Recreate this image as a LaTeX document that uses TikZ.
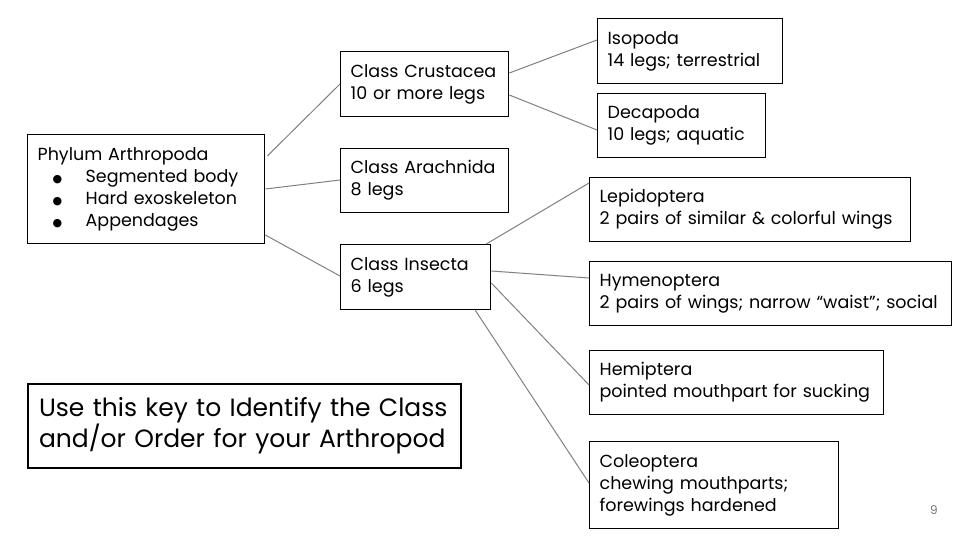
\documentclass[tikz,border=0pt]{standalone}
\usepackage{fontspec}
\setmainfont{Poppins}
\newfontfamily\symfont{DejaVu Sans}
\usetikzlibrary{calc}
\definecolor{conngray}{HTML}{808080}
\definecolor{numgray}{HTML}{757575}
\tikzset{
  box/.style={draw=black, line width=1.3pt, anchor=north west, align=left,
    inner xsep=10pt, inner ysep=0pt, font=\fontsize{17.5}{22}\selectfont},
  keybox/.style={draw=black, line width=2pt, anchor=north west, align=left,
    inner xsep=11pt, inner ysep=0pt, font=\fontsize{25}{29}\selectfont},
  conn/.style={draw=conngray, line width=1pt},
}
\newcommand{\bul}[1]{\hspace{15pt}\makebox[33pt][l]{\symfont\fontsize{11}{11}\selectfont ●}#1}
\begin{document}
\begin{tikzpicture}[x=1pt,y=-1pt]
\useasboundingbox (0,0) rectangle (960,540);
\node[box, text width=217pt, minimum height=109pt] (phyl) at (27,134)
  {Phylum Arthropoda\\\bul{Segmented body}\\\bul{Hard exoskeleton}\\\bul{Appendages}};
\node[box, text width=148pt, minimum height=65pt] (crus) at (340,51)
  {Class Crustacea\\10 or more legs};
\node[box, text width=148pt, minimum height=64pt] (arach) at (340,148)
  {Class Arachnida\\8 legs};
\node[box, text width=130pt, minimum height=65pt] (insec) at (340,244)
  {Class Insecta\\6 legs};
\node[box, text width=165pt, minimum height=65pt] (iso) at (597,18)
  {Isopoda\\14 legs; terrestrial};
\node[box, text width=148pt, minimum height=64pt] (deca) at (597,93)
  {Decapoda\\10 legs; aquatic};
\node[box, text width=301pt, minimum height=64pt] (lepi) at (589,177)
  {Lepidoptera\\2 pairs of similar \& colorful wings};
\node[box, text width=342pt, minimum height=64pt] (hymen) at (589,261)
  {Hymenoptera\\2 pairs of wings; narrow “waist”; social};
\node[box, text width=274pt, minimum height=64pt] (hemi) at (589,350)
  {Hemiptera\\pointed mouthpart for sucking};
\node[box, text width=229pt, minimum height=87pt] (cole) at (589,441)
  {Coleoptera\\chewing mouthparts;\\forewings hardened};
\node[keybox, text width=411pt, minimum height=84pt] (key) at (27,383)
  {Use this key to Identify the Class\\and/or Order for your Arthropod};
\node[text=numgray, font=\fontsize{12}{14}\selectfont] (pnum) at (934,510) {9};
% connectors
\draw[conn] ($(phyl.north east)+(2,22)$) -- ($(crus.north west)+(0,33)$);
\draw[conn] ($(phyl.north east)+(0,55)$) -- ($(arach.north west)+(0,32)$);
\draw[conn] ($(phyl.north east)+(0,101)$) -- ($(insec.north west)+(0,32)$);
\draw[conn] ($(crus.north east)+(0,22)$) -- ($(iso.north west)+(0,22)$);
\draw[conn] ($(crus.north east)+(0,44)$) -- ($(deca.north west)+(0,37)$);
\draw[conn] ($(insec.north east)+(-5,0)$) -- ($(lepi.north west)+(0,6)$);
\draw[conn] ($(insec.north east)+(0,27)$) -- ($(hymen.north west)+(0,17)$);
\draw[conn] ($(insec.north east)+(0,39)$) -- ($(hemi.north west)+(0,35)$);
\draw[conn] ($(insec.south east)+(-16,0)$) -- ($(cole.north west)+(0,42)$);
\end{tikzpicture}
\end{document}
